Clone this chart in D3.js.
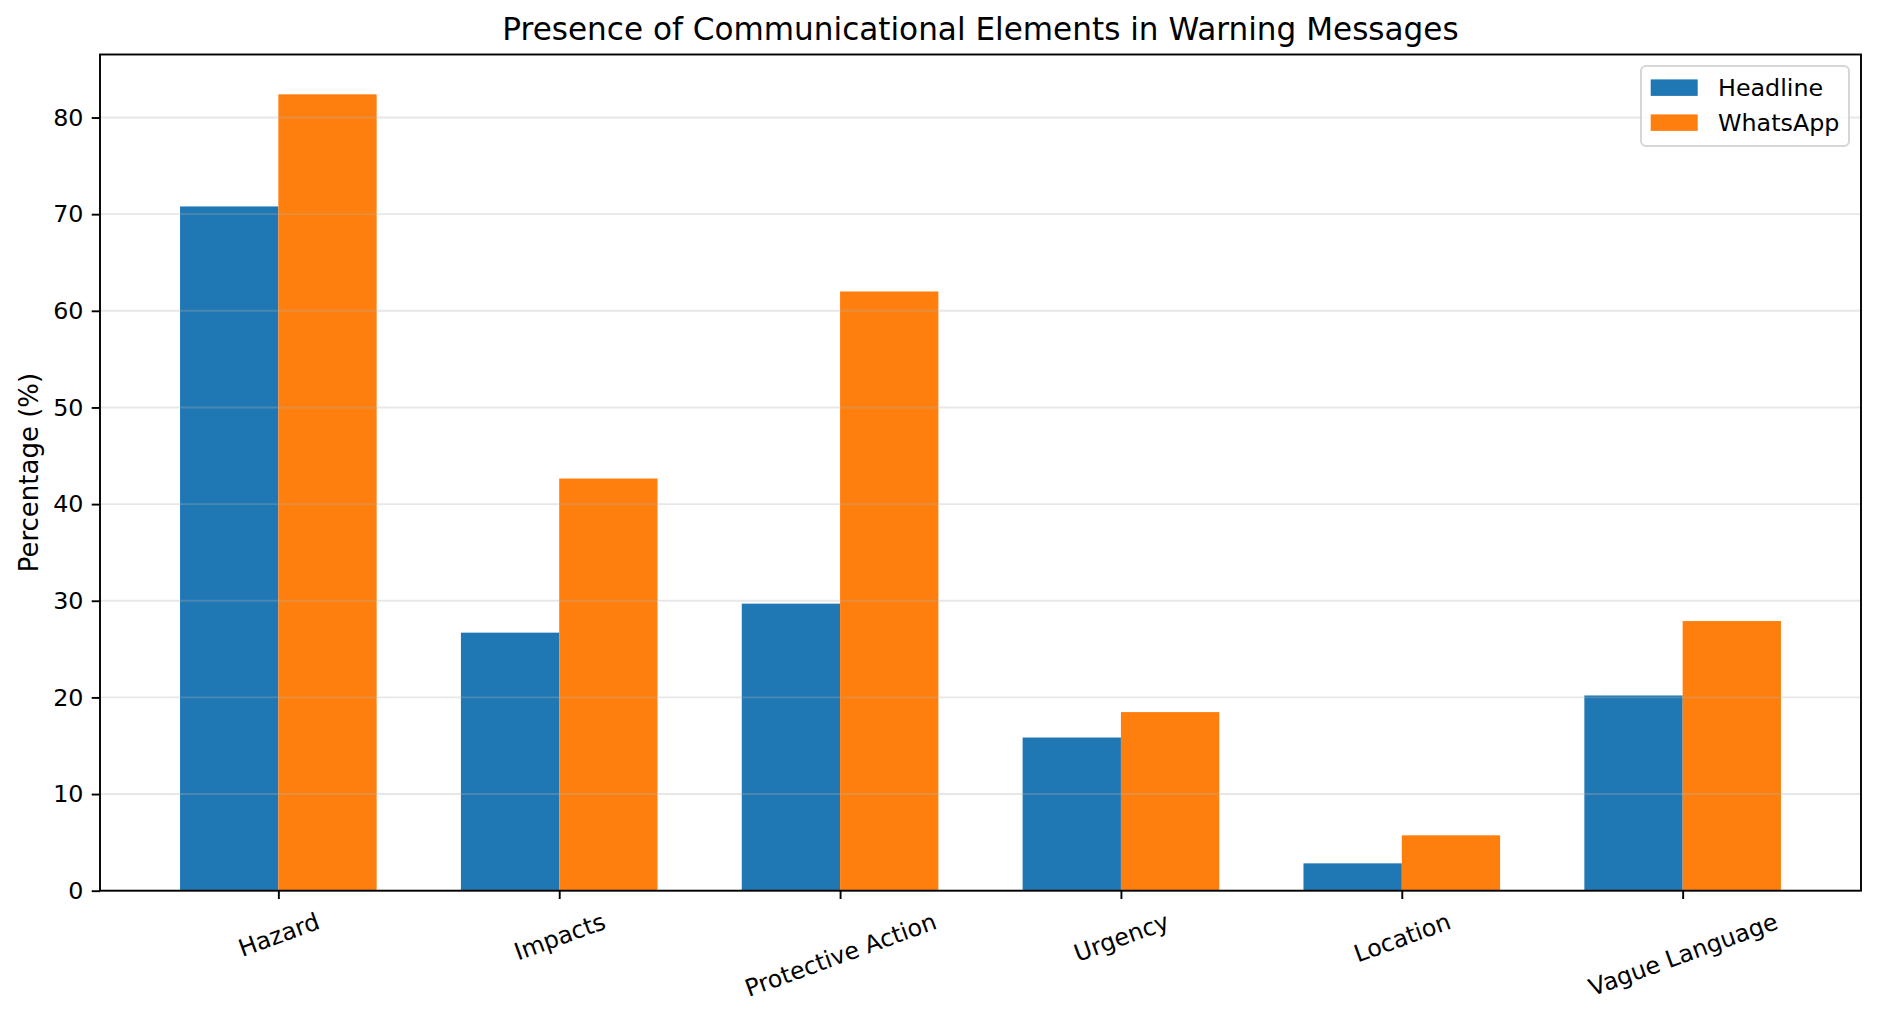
<!DOCTYPE html>
<html>
<head>
<meta charset="utf-8">
<script src="https://cdn.jsdelivr.net/npm/d3@7"></script>
<style>
  body { margin: 0; background: #fff; }
  text { font-family: "DejaVu Sans", sans-serif; fill: #000; }
</style>
</head>
<body>
<div id="wrapper"></div>
<script>
// data
const categories = ["Hazard", "Impacts", "Protective Action", "Urgency", "Location", "Vague Language"];
const headline = [70.8, 26.7, 29.7, 15.85, 2.83, 20.2];
const whatsapp = [82.4, 42.65, 62.0, 18.48, 5.73, 27.9];
const seriesNames = ["Headline", "WhatsApp"];
const seriesColors = ["#1f77b4", "#ff7f0e"];
const yTicks = [0, 10, 20, 30, 40, 50, 60, 70, 80];

const dimension = {
  width: 1883,
  height: 1020,
  margin: { top: 54.5, right: 22, bottom: 129.3, left: 100 }
};
dimension.boundedWidth = dimension.width - dimension.margin.left - dimension.margin.right;
dimension.boundedHeight = dimension.height - dimension.margin.top - dimension.margin.bottom;

const tickFont = 23.8;
const tickLen = 8.3;
const tickPad = 8.3;
const barWidth = 0.35;

const svg = d3.select("#wrapper")
  .append("svg")
  .attr("width", dimension.width)
  .attr("height", dimension.height);

const bounds = svg.append("g")
  .attr("transform", `translate(${dimension.margin.left},${dimension.margin.top})`);

// matplotlib style auto limits: 5% margin on x, 5% headroom on y
const xLo = -barWidth, xHi = categories.length - 1 + barWidth;
const xPad = (xHi - xLo) * 0.05;
const x = d3.scaleLinear()
  .domain([xLo - xPad, xHi + xPad])
  .range([0, dimension.boundedWidth]);

const yMax = d3.max(headline.concat(whatsapp)) * 1.05;
const y = d3.scaleLinear()
  .domain([0, yMax])
  .range([dimension.boundedHeight, 0]);

// bars
const series = [headline, whatsapp];
series.forEach((vals, s) => {
  bounds.append("g")
    .selectAll("rect")
    .data(vals)
    .join("rect")
    .attr("x", (d, i) => x(i + (s === 0 ? -barWidth : 0)))
    .attr("width", x(barWidth) - x(0))
    .attr("y", d => y(d))
    .attr("height", d => y(0) - y(d))
    .attr("fill", seriesColors[s]);
});

// grid over the bars, like matplotlib's default
bounds.append("g")
  .selectAll("line")
  .data(yTicks)
  .join("line")
  .attr("x1", 0)
  .attr("x2", dimension.boundedWidth)
  .attr("y1", d => y(d))
  .attr("y2", d => y(d))
  .attr("stroke", "#b0b0b0")
  .attr("stroke-opacity", 0.3)
  .attr("stroke-width", 1.9);

// y axis
const yAxis = bounds.append("g")
  .call(d3.axisLeft(y).tickValues(yTicks).tickSize(tickLen).tickPadding(tickPad));
yAxis.select(".domain").remove();
yAxis.selectAll("text")
  .style("font-family", "DejaVu Sans")
  .style("font-size", tickFont + "px")
  .attr("fill", "#000");
yAxis.selectAll("line").attr("stroke", "#000").attr("stroke-width", 1.9);

// x axis
const xAxis = bounds.append("g")
  .attr("transform", `translate(0,${dimension.boundedHeight})`)
  .call(d3.axisBottom(x)
    .tickValues(d3.range(categories.length))
    .tickFormat(i => categories[i])
    .tickSize(tickLen));
xAxis.select(".domain").remove();
xAxis.selectAll("line").attr("stroke", "#000").attr("stroke-width", 1.9);

const angle = 20 * Math.PI / 180;
xAxis.selectAll("text")
  .style("font-family", "DejaVu Sans")
  .style("font-size", tickFont + "px")
  .attr("fill", "#000")
  .attr("y", 0)
  .attr("dy", "0.35em")
  .each(function() {
    const w = this.getComputedTextLength();
    const h = tickFont * 1.164;
    const boxH = w * Math.sin(angle) + h * Math.cos(angle);
    d3.select(this)
      .attr("transform", `translate(0,${tickLen + tickPad + boxH / 2}) rotate(-20)`);
  });

// spines
bounds.append("rect")
  .attr("width", dimension.boundedWidth)
  .attr("height", dimension.boundedHeight)
  .attr("fill", "none")
  .attr("stroke", "#000")
  .attr("stroke-width", 1.9);

// title
svg.append("text")
  .attr("x", dimension.margin.left + dimension.boundedWidth / 2)
  .attr("y", dimension.margin.top - 14.2)
  .attr("text-anchor", "middle")
  .style("font-size", "31.1px")
  .text("Presence of Communicational Elements in Warning Messages");

// y label
svg.append("text")
  .attr("transform", `translate(29,${dimension.margin.top + dimension.boundedHeight / 2}) rotate(-90)`)
  .attr("text-anchor", "middle")
  .attr("dy", "0.35em")
  .style("font-size", "26px")
  .text("Percentage (%)");

// legend
const legend = svg.append("g")
  .attr("transform", "translate(1641,66)");
legend.append("rect")
  .attr("width", 208)
  .attr("height", 80)
  .attr("rx", 5)
  .attr("fill", "#fff")
  .attr("fill-opacity", 0.8)
  .attr("stroke", "#cccccc")
  .attr("stroke-opacity", 0.8)
  .attr("stroke-width", 2);
const items = legend.selectAll("g.item")
  .data(seriesNames)
  .join("g")
  .attr("class", "item")
  .attr("transform", (d, i) => `translate(0,${21.7 + i * 35})`);
items.append("rect")
  .attr("x", 9.7)
  .attr("y", -8.3)
  .attr("width", 47)
  .attr("height", 16.5)
  .attr("fill", (d, i) => seriesColors[i]);
items.append("text")
  .attr("x", 77)
  .attr("dy", "0.35em")
  .style("font-size", tickFont + "px")
  .text(d => d);
</script>
</body>
</html>
